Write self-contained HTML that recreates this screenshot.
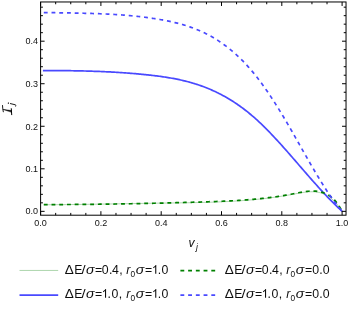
<!DOCTYPE html>
<html><head><meta charset="utf-8"><title>plot</title>
<style>html,body{margin:0;padding:0;background:#fff;}svg{display:block;}</style>
</head><body>
<svg width="349" height="310" viewBox="0 0 349 310">
<defs><filter id="b" x="0" y="0" width="349" height="310" filterUnits="userSpaceOnUse"><feGaussianBlur stdDeviation="0.42"/></filter></defs>
<rect width="349" height="310" fill="#fff"/>
<g filter="url(#b)">
<g fill="none" stroke-linejoin="round">
<path d="M43.80,204.77 L45.05,204.76 L46.30,204.76 L47.54,204.75 L48.79,204.74 L50.04,204.74 L51.29,204.73 L52.54,204.72 L53.78,204.71 L55.03,204.70 L56.28,204.69 L57.53,204.68 L58.78,204.67 L60.03,204.66 L61.27,204.65 L62.52,204.63 L63.77,204.62 L65.02,204.61 L66.27,204.60 L67.51,204.58 L68.76,204.57 L70.01,204.56 L71.26,204.54 L72.51,204.53 L73.75,204.51 L75.00,204.50 L76.25,204.48 L77.50,204.46 L78.75,204.45 L80.00,204.43 L81.24,204.41 L82.49,204.40 L83.74,204.38 L84.99,204.36 L86.24,204.34 L87.48,204.33 L88.73,204.31 L89.98,204.29 L91.23,204.27 L92.48,204.25 L93.72,204.23 L94.97,204.21 L96.22,204.19 L97.47,204.17 L98.72,204.15 L99.97,204.13 L101.21,204.11 L102.46,204.09 L103.71,204.07 L104.96,204.05 L106.21,204.03 L107.45,204.01 L108.70,203.99 L109.95,203.97 L111.20,203.95 L112.45,203.93 L113.69,203.90 L114.94,203.88 L116.19,203.86 L117.44,203.84 L118.69,203.82 L119.94,203.80 L121.18,203.78 L122.43,203.75 L123.68,203.73 L124.93,203.71 L126.18,203.69 L127.42,203.67 L128.67,203.65 L129.92,203.62 L131.17,203.60 L132.42,203.58 L133.66,203.56 L134.91,203.54 L136.16,203.52 L137.41,203.50 L138.66,203.47 L139.91,203.45 L141.15,203.43 L142.40,203.41 L143.65,203.39 L144.90,203.37 L146.15,203.35 L147.39,203.33 L148.64,203.31 L149.89,203.29 L151.14,203.27 L152.39,203.25 L153.63,203.23 L154.88,203.21 L156.13,203.19 L157.38,203.17 L158.63,203.15 L159.87,203.14 L161.12,203.12 L162.37,203.10 L163.62,203.08 L164.87,203.06 L166.12,203.05 L167.36,203.03 L168.61,203.01 L169.86,202.99 L171.11,202.98 L172.36,202.96 L173.60,202.94 L174.85,202.93 L176.10,202.91 L177.35,202.89 L178.60,202.88 L179.84,202.86 L181.09,202.84 L182.34,202.82 L183.59,202.80 L184.84,202.78 L186.09,202.76 L187.33,202.74 L188.58,202.72 L189.83,202.70 L191.08,202.68 L192.33,202.66 L193.57,202.63 L194.82,202.61 L196.07,202.58 L197.32,202.56 L198.57,202.53 L199.81,202.50 L201.06,202.47 L202.31,202.44 L203.56,202.41 L204.81,202.38 L206.06,202.35 L207.30,202.31 L208.55,202.27 L209.80,202.24 L211.05,202.20 L212.30,202.16 L213.54,202.11 L214.79,202.07 L216.04,202.02 L217.29,201.98 L218.54,201.93 L219.78,201.88 L221.03,201.83 L222.28,201.77 L223.53,201.72 L224.78,201.66 L226.03,201.60 L227.27,201.54 L228.52,201.47 L229.77,201.41 L231.02,201.34 L232.27,201.27 L233.51,201.19 L234.76,201.12 L236.01,201.04 L237.26,200.96 L238.51,200.88 L239.75,200.80 L241.00,200.71 L242.25,200.62 L243.50,200.53 L244.75,200.43 L245.99,200.33 L247.24,200.23 L248.49,200.13 L249.74,200.02 L250.99,199.91 L252.24,199.80 L253.48,199.68 L254.73,199.57 L255.98,199.44 L257.23,199.32 L258.48,199.19 L259.72,199.06 L260.97,198.93 L262.22,198.79 L263.47,198.65 L264.72,198.50 L265.96,198.36 L267.21,198.20 L268.46,198.05 L269.71,197.89 L270.96,197.73 L272.21,197.56 L273.45,197.39 L274.70,197.22 L275.95,197.05 L277.20,196.87 L278.45,196.68 L279.69,196.50 L280.94,196.30 L282.19,196.11 L283.44,195.91 L284.69,195.71 L285.93,195.50 L287.18,195.30 L288.43,195.08 L289.68,194.87 L290.93,194.65 L292.18,194.42 L293.42,194.19 L294.67,193.96 L295.92,193.73 L297.17,193.49 L298.42,193.26 L299.66,193.03 L300.91,192.82 L302.16,192.61 L303.41,192.42 L304.66,192.25 L305.90,192.10 L307.15,191.97 L308.40,191.86 L309.65,191.79 L310.90,191.75 L312.15,191.74 L313.39,191.77 L314.64,191.84 L315.89,191.96 L317.14,192.12 L318.39,192.33 L319.63,192.60 L320.88,192.92 L322.13,193.30 L323.38,193.76 L324.63,194.28 L325.87,194.87 L327.12,195.55 L328.37,196.30 L329.62,197.15 L330.87,198.08 L332.12,199.11 L333.36,200.24 L334.61,201.47 L335.86,202.81 L337.11,204.27 L338.36,205.84 L339.60,207.53 L340.85,209.35 L342.10,211.29" stroke="#008000" stroke-opacity="0.36" stroke-width="0.9"/>
<path d="M42.90,70.53 L44.15,70.53 L45.40,70.53 L46.66,70.53 L47.91,70.54 L49.16,70.54 L50.41,70.55 L51.66,70.55 L52.92,70.56 L54.17,70.56 L55.42,70.57 L56.67,70.58 L57.92,70.59 L59.17,70.60 L60.43,70.61 L61.68,70.62 L62.93,70.63 L64.18,70.64 L65.43,70.65 L66.69,70.67 L67.94,70.68 L69.19,70.70 L70.44,70.72 L71.69,70.74 L72.95,70.76 L74.20,70.78 L75.45,70.80 L76.70,70.82 L77.95,70.84 L79.20,70.87 L80.46,70.90 L81.71,70.92 L82.96,70.95 L84.21,70.98 L85.46,71.02 L86.72,71.05 L87.97,71.08 L89.22,71.12 L90.47,71.16 L91.72,71.19 L92.98,71.23 L94.23,71.28 L95.48,71.32 L96.73,71.36 L97.98,71.41 L99.23,71.46 L100.49,71.51 L101.74,71.56 L102.99,71.61 L104.24,71.67 L105.49,71.73 L106.75,71.79 L108.00,71.85 L109.25,71.91 L110.50,71.97 L111.75,72.04 L113.01,72.11 L114.26,72.18 L115.51,72.25 L116.76,72.32 L118.01,72.40 L119.26,72.48 L120.52,72.56 L121.77,72.64 L123.02,72.73 L124.27,72.81 L125.52,72.90 L126.78,72.99 L128.03,73.09 L129.28,73.18 L130.53,73.28 L131.78,73.38 L133.04,73.49 L134.29,73.59 L135.54,73.70 L136.79,73.81 L138.04,73.92 L139.29,74.04 L140.55,74.16 L141.80,74.28 L143.05,74.40 L144.30,74.53 L145.55,74.66 L146.81,74.79 L148.06,74.92 L149.31,75.06 L150.56,75.20 L151.81,75.34 L153.07,75.49 L154.32,75.64 L155.57,75.79 L156.82,75.95 L158.07,76.11 L159.33,76.27 L160.58,76.44 L161.83,76.62 L163.08,76.80 L164.33,76.99 L165.58,77.18 L166.84,77.37 L168.09,77.58 L169.34,77.79 L170.59,78.00 L171.84,78.22 L173.10,78.45 L174.35,78.69 L175.60,78.93 L176.85,79.18 L178.10,79.44 L179.36,79.70 L180.61,79.98 L181.86,80.26 L183.11,80.55 L184.36,80.85 L185.61,81.16 L186.87,81.48 L188.12,81.80 L189.37,82.14 L190.62,82.49 L191.87,82.85 L193.13,83.21 L194.38,83.59 L195.63,83.98 L196.88,84.38 L198.13,84.79 L199.39,85.21 L200.64,85.64 L201.89,86.09 L203.14,86.54 L204.39,87.01 L205.64,87.50 L206.90,87.99 L208.15,88.50 L209.40,89.02 L210.65,89.55 L211.90,90.10 L213.16,90.66 L214.41,91.23 L215.66,91.82 L216.91,92.42 L218.16,93.03 L219.42,93.66 L220.67,94.31 L221.92,94.97 L223.17,95.64 L224.42,96.33 L225.67,97.03 L226.93,97.75 L228.18,98.48 L229.43,99.23 L230.68,100.00 L231.93,100.78 L233.19,101.58 L234.44,102.39 L235.69,103.22 L236.94,104.06 L238.19,104.93 L239.45,105.81 L240.70,106.70 L241.95,107.62 L243.20,108.55 L244.45,109.49 L245.71,110.46 L246.96,111.44 L248.21,112.45 L249.46,113.47 L250.71,114.50 L251.96,115.56 L253.22,116.64 L254.47,117.73 L255.72,118.84 L256.97,119.97 L258.22,121.12 L259.48,122.29 L260.73,123.47 L261.98,124.67 L263.23,125.89 L264.48,127.12 L265.74,128.37 L266.99,129.63 L268.24,130.90 L269.49,132.19 L270.74,133.49 L271.99,134.80 L273.25,136.13 L274.50,137.46 L275.75,138.81 L277.00,140.16 L278.25,141.53 L279.51,142.91 L280.76,144.29 L282.01,145.68 L283.26,147.08 L284.51,148.48 L285.77,149.89 L287.02,151.31 L288.27,152.74 L289.52,154.16 L290.77,155.59 L292.02,157.03 L293.28,158.47 L294.53,159.91 L295.78,161.35 L297.03,162.80 L298.28,164.24 L299.54,165.69 L300.79,167.14 L302.04,168.58 L303.29,170.03 L304.54,171.47 L305.80,172.91 L307.05,174.35 L308.30,175.79 L309.55,177.22 L310.80,178.64 L312.05,180.07 L313.31,181.48 L314.56,182.89 L315.81,184.30 L317.06,185.69 L318.31,187.08 L319.57,188.46 L320.82,189.84 L322.07,191.20 L323.32,192.55 L324.57,193.90 L325.83,195.23 L327.08,196.55 L328.33,197.86 L329.58,199.15 L330.83,200.44 L332.08,201.71 L333.34,202.96 L334.59,204.20 L335.84,205.42 L337.09,206.63 L338.34,207.83 L339.60,209.00 L340.85,210.16 L342.10,211.30" stroke="#4a4aff" stroke-width="1.7"/>
<path d="M43.80,204.59 L45.05,204.59 L46.30,204.59 L47.54,204.59 L48.79,204.58 L50.04,204.58 L51.29,204.58 L52.54,204.58 L53.78,204.57 L55.03,204.57 L56.28,204.57 L57.53,204.56 L58.78,204.56 L60.03,204.55 L61.27,204.55 L62.52,204.54 L63.77,204.54 L65.02,204.53 L66.27,204.52 L67.51,204.52 L68.76,204.51 L70.01,204.50 L71.26,204.49 L72.51,204.48 L73.75,204.47 L75.00,204.47 L76.25,204.46 L77.50,204.45 L78.75,204.44 L80.00,204.43 L81.24,204.42 L82.49,204.40 L83.74,204.39 L84.99,204.38 L86.24,204.37 L87.48,204.36 L88.73,204.34 L89.98,204.33 L91.23,204.32 L92.48,204.31 L93.72,204.29 L94.97,204.28 L96.22,204.26 L97.47,204.25 L98.72,204.23 L99.97,204.22 L101.21,204.20 L102.46,204.18 L103.71,204.17 L104.96,204.15 L106.21,204.13 L107.45,204.12 L108.70,204.10 L109.95,204.08 L111.20,204.06 L112.45,204.04 L113.69,204.03 L114.94,204.01 L116.19,203.99 L117.44,203.97 L118.69,203.95 L119.94,203.93 L121.18,203.91 L122.43,203.88 L123.68,203.86 L124.93,203.84 L126.18,203.82 L127.42,203.80 L128.67,203.78 L129.92,203.75 L131.17,203.73 L132.42,203.71 L133.66,203.68 L134.91,203.66 L136.16,203.63 L137.41,203.61 L138.66,203.58 L139.91,203.56 L141.15,203.53 L142.40,203.51 L143.65,203.48 L144.90,203.46 L146.15,203.43 L147.39,203.40 L148.64,203.38 L149.89,203.35 L151.14,203.32 L152.39,203.29 L153.63,203.26 L154.88,203.24 L156.13,203.21 L157.38,203.18 L158.63,203.15 L159.87,203.12 L161.12,203.09 L162.37,203.06 L163.62,203.03 L164.87,203.00 L166.12,202.97 L167.36,202.94 L168.61,202.91 L169.86,202.87 L171.11,202.84 L172.36,202.81 L173.60,202.78 L174.85,202.74 L176.10,202.71 L177.35,202.68 L178.60,202.64 L179.84,202.61 L181.09,202.58 L182.34,202.54 L183.59,202.51 L184.84,202.47 L186.09,202.44 L187.33,202.40 L188.58,202.37 L189.83,202.33 L191.08,202.29 L192.33,202.26 L193.57,202.22 L194.82,202.18 L196.07,202.15 L197.32,202.11 L198.57,202.07 L199.81,202.04 L201.06,202.00 L202.31,201.96 L203.56,201.92 L204.81,201.88 L206.06,201.84 L207.30,201.80 L208.55,201.76 L209.80,201.72 L211.05,201.68 L212.30,201.63 L213.54,201.59 L214.79,201.54 L216.04,201.50 L217.29,201.45 L218.54,201.40 L219.78,201.35 L221.03,201.30 L222.28,201.25 L223.53,201.20 L224.78,201.14 L226.03,201.08 L227.27,201.02 L228.52,200.96 L229.77,200.90 L231.02,200.84 L232.27,200.77 L233.51,200.70 L234.76,200.63 L236.01,200.56 L237.26,200.49 L238.51,200.41 L239.75,200.33 L241.00,200.25 L242.25,200.17 L243.50,200.08 L244.75,199.99 L245.99,199.90 L247.24,199.81 L248.49,199.71 L249.74,199.61 L250.99,199.50 L252.24,199.40 L253.48,199.29 L254.73,199.18 L255.98,199.06 L257.23,198.94 L258.48,198.82 L259.72,198.69 L260.97,198.56 L262.22,198.43 L263.47,198.30 L264.72,198.16 L265.96,198.01 L267.21,197.86 L268.46,197.71 L269.71,197.56 L270.96,197.40 L272.21,197.23 L273.45,197.07 L274.70,196.89 L275.95,196.72 L277.20,196.54 L278.45,196.35 L279.69,196.16 L280.94,195.97 L282.19,195.77 L283.44,195.56 L284.69,195.35 L285.93,195.14 L287.18,194.92 L288.43,194.70 L289.68,194.47 L290.93,194.24 L292.18,194.00 L293.42,193.75 L294.67,193.51 L295.92,193.26 L297.17,193.01 L298.42,192.76 L299.66,192.52 L300.91,192.29 L302.16,192.07 L303.41,191.87 L304.66,191.68 L305.90,191.51 L307.15,191.37 L308.40,191.25 L309.65,191.16 L310.90,191.09 L312.15,191.07 L313.39,191.07 L314.64,191.12 L315.89,191.20 L317.14,191.33 L318.39,191.51 L319.63,191.73 L320.88,192.01 L322.13,192.34 L323.38,192.73 L324.63,193.18 L325.87,193.70 L327.12,194.30 L328.37,194.98 L329.62,195.77 L330.87,196.67 L332.12,197.69 L333.36,198.84 L334.61,200.14 L335.86,201.59 L337.11,203.20 L338.36,204.97 L339.60,206.91 L340.85,209.02 L342.10,211.30" stroke="#008000" stroke-width="1.7" stroke-dasharray="3.863 3.863"/>
<path d="M43.80,12.60 L45.05,12.61 L46.30,12.62 L47.54,12.63 L48.79,12.65 L50.04,12.66 L51.29,12.67 L52.54,12.69 L53.78,12.71 L55.03,12.72 L56.28,12.74 L57.53,12.76 L58.78,12.78 L60.03,12.79 L61.27,12.81 L62.52,12.83 L63.77,12.85 L65.02,12.87 L66.27,12.90 L67.51,12.92 L68.76,12.94 L70.01,12.96 L71.26,12.98 L72.51,13.01 L73.75,13.03 L75.00,13.06 L76.25,13.08 L77.50,13.11 L78.75,13.13 L80.00,13.16 L81.24,13.19 L82.49,13.22 L83.74,13.24 L84.99,13.28 L86.24,13.31 L87.48,13.34 L88.73,13.37 L89.98,13.41 L91.23,13.45 L92.48,13.49 L93.72,13.53 L94.97,13.57 L96.22,13.61 L97.47,13.66 L98.72,13.70 L99.97,13.75 L101.21,13.80 L102.46,13.85 L103.71,13.91 L104.96,13.96 L106.21,14.02 L107.45,14.08 L108.70,14.15 L109.95,14.21 L111.20,14.28 L112.45,14.35 L113.69,14.42 L114.94,14.50 L116.19,14.58 L117.44,14.66 L118.69,14.74 L119.94,14.83 L121.18,14.92 L122.43,15.01 L123.68,15.11 L124.93,15.20 L126.18,15.31 L127.42,15.41 L128.67,15.52 L129.92,15.63 L131.17,15.75 L132.42,15.87 L133.66,15.99 L134.91,16.12 L136.16,16.25 L137.41,16.38 L138.66,16.52 L139.91,16.66 L141.15,16.80 L142.40,16.95 L143.65,17.11 L144.90,17.27 L146.15,17.43 L147.39,17.59 L148.64,17.77 L149.89,17.94 L151.14,18.12 L152.39,18.30 L153.63,18.49 L154.88,18.69 L156.13,18.89 L157.38,19.09 L158.63,19.30 L159.87,19.51 L161.12,19.73 L162.37,19.95 L163.62,20.18 L164.87,20.42 L166.12,20.66 L167.36,20.91 L168.61,21.16 L169.86,21.42 L171.11,21.69 L172.36,21.97 L173.60,22.26 L174.85,22.55 L176.10,22.86 L177.35,23.17 L178.60,23.49 L179.84,23.83 L181.09,24.17 L182.34,24.52 L183.59,24.89 L184.84,25.26 L186.09,25.65 L187.33,26.05 L188.58,26.46 L189.83,26.89 L191.08,27.33 L192.33,27.78 L193.57,28.24 L194.82,28.72 L196.07,29.21 L197.32,29.72 L198.57,30.24 L199.81,30.78 L201.06,31.33 L202.31,31.90 L203.56,32.48 L204.81,33.08 L206.06,33.70 L207.30,34.34 L208.55,34.99 L209.80,35.66 L211.05,36.35 L212.30,37.06 L213.54,37.78 L214.79,38.53 L216.04,39.29 L217.29,40.08 L218.54,40.88 L219.78,41.71 L221.03,42.56 L222.28,43.43 L223.53,44.31 L224.78,45.23 L226.03,46.16 L227.27,47.11 L228.52,48.09 L229.77,49.09 L231.02,50.12 L232.27,51.16 L233.51,52.24 L234.76,53.33 L236.01,54.45 L237.26,55.60 L238.51,56.77 L239.75,57.97 L241.00,59.19 L242.25,60.44 L243.50,61.71 L244.75,63.01 L245.99,64.34 L247.24,65.70 L248.49,67.08 L249.74,68.49 L250.99,69.93 L252.24,71.40 L253.48,72.90 L254.73,74.42 L255.98,75.98 L257.23,77.56 L258.48,79.18 L259.72,80.82 L260.97,82.50 L262.22,84.20 L263.47,85.93 L264.72,87.69 L265.96,89.47 L267.21,91.28 L268.46,93.11 L269.71,94.97 L270.96,96.85 L272.21,98.76 L273.45,100.68 L274.70,102.63 L275.95,104.60 L277.20,106.59 L278.45,108.60 L279.69,110.62 L280.94,112.67 L282.19,114.73 L283.44,116.81 L284.69,118.90 L285.93,121.01 L287.18,123.14 L288.43,125.28 L289.68,127.43 L290.93,129.59 L292.18,131.77 L293.42,133.95 L294.67,136.14 L295.92,138.33 L297.17,140.53 L298.42,142.74 L299.66,144.94 L300.91,147.15 L302.16,149.35 L303.41,151.55 L304.66,153.75 L305.90,155.95 L307.15,158.13 L308.40,160.31 L309.65,162.48 L310.90,164.64 L312.15,166.79 L313.39,168.93 L314.64,171.05 L315.89,173.15 L317.14,175.24 L318.39,177.31 L319.63,179.36 L320.88,181.39 L322.13,183.39 L323.38,185.38 L324.63,187.33 L325.87,189.26 L327.12,191.16 L328.37,193.04 L329.62,194.88 L330.87,196.69 L332.12,198.46 L333.36,200.20 L334.61,201.91 L335.86,203.57 L337.11,205.20 L338.36,206.79 L339.60,208.33 L340.85,209.84 L342.10,211.30" stroke="#4a4aff" stroke-width="1.7" stroke-dasharray="3.863 3.863"/>
</g>
<g stroke="#000" stroke-width="1.0" fill="none">
<rect x="40.6" y="1.97" width="305.42999999999995" height="213.23"/>
<path d="M40.60,215.2 v-4.0 M40.60,1.97 v4.0 M55.68,215.2 v-2.3 M55.68,1.97 v2.3 M70.75,215.2 v-2.3 M70.75,1.97 v2.3 M85.83,215.2 v-2.3 M85.83,1.97 v2.3 M100.90,215.2 v-4.0 M100.90,1.97 v4.0 M115.97,215.2 v-2.3 M115.97,1.97 v2.3 M131.05,215.2 v-2.3 M131.05,1.97 v2.3 M146.12,215.2 v-2.3 M146.12,1.97 v2.3 M161.20,215.2 v-4.0 M161.20,1.97 v4.0 M176.28,215.2 v-2.3 M176.28,1.97 v2.3 M191.35,215.2 v-2.3 M191.35,1.97 v2.3 M206.43,215.2 v-2.3 M206.43,1.97 v2.3 M221.50,215.2 v-4.0 M221.50,1.97 v4.0 M236.57,215.2 v-2.3 M236.57,1.97 v2.3 M251.65,215.2 v-2.3 M251.65,1.97 v2.3 M266.73,215.2 v-2.3 M266.73,1.97 v2.3 M281.80,215.2 v-4.0 M281.80,1.97 v4.0 M296.88,215.2 v-2.3 M296.88,1.97 v2.3 M311.95,215.2 v-2.3 M311.95,1.97 v2.3 M327.03,215.2 v-2.3 M327.03,1.97 v2.3 M342.10,215.2 v-4.0 M342.10,1.97 v4.0 M40.6,211.35 h4.0 M346.03,211.35 h-4.0 M40.6,202.84 h2.3 M346.03,202.84 h-2.3 M40.6,194.33 h2.3 M346.03,194.33 h-2.3 M40.6,185.83 h2.3 M346.03,185.83 h-2.3 M40.6,177.32 h2.3 M346.03,177.32 h-2.3 M40.6,168.81 h4.0 M346.03,168.81 h-4.0 M40.6,160.30 h2.3 M346.03,160.30 h-2.3 M40.6,151.79 h2.3 M346.03,151.79 h-2.3 M40.6,143.29 h2.3 M346.03,143.29 h-2.3 M40.6,134.78 h2.3 M346.03,134.78 h-2.3 M40.6,126.27 h4.0 M346.03,126.27 h-4.0 M40.6,117.76 h2.3 M346.03,117.76 h-2.3 M40.6,109.25 h2.3 M346.03,109.25 h-2.3 M40.6,100.75 h2.3 M346.03,100.75 h-2.3 M40.6,92.24 h2.3 M346.03,92.24 h-2.3 M40.6,83.73 h4.0 M346.03,83.73 h-4.0 M40.6,75.22 h2.3 M346.03,75.22 h-2.3 M40.6,66.71 h2.3 M346.03,66.71 h-2.3 M40.6,58.21 h2.3 M346.03,58.21 h-2.3 M40.6,49.70 h2.3 M346.03,49.70 h-2.3 M40.6,41.19 h4.0 M346.03,41.19 h-4.0 M40.6,32.68 h2.3 M346.03,32.68 h-2.3 M40.6,24.17 h2.3 M346.03,24.17 h-2.3 M40.6,15.67 h2.3 M346.03,15.67 h-2.3 M40.6,7.16 h2.3 M346.03,7.16 h-2.3" stroke-width="1.0"/>
</g>
<g font-family="Liberation Sans, sans-serif" font-size="9" fill="#111">
<text x="40.60" y="226.3" text-anchor="middle">0.0</text>
<text x="100.90" y="226.3" text-anchor="middle">0.2</text>
<text x="161.20" y="226.3" text-anchor="middle">0.4</text>
<text x="221.50" y="226.3" text-anchor="middle">0.6</text>
<text x="281.80" y="226.3" text-anchor="middle">0.8</text>
<text x="342.10" y="226.3" text-anchor="middle">1.0</text>
<text x="37.9" y="213.65" text-anchor="end">0.0</text>
<text x="37.9" y="172.11" text-anchor="end">0.1</text>
<text x="37.9" y="129.57" text-anchor="end">0.2</text>
<text x="37.9" y="87.03" text-anchor="end">0.3</text>
<text x="37.9" y="44.49" text-anchor="end">0.4</text>
</g>
<g fill="#111" font-family="Liberation Sans, sans-serif" font-style="italic">
<text x="188.4" y="246.7" font-size="12">v</text><text x="196.1" y="250.2" font-size="8.5">j</text>
</g>
<g stroke="#000" stroke-width="0.9" fill="none" stroke-linecap="round" stroke-linejoin="round">
<path d="M2.5,105.5 Q2.6,109 3.3,111.8"/>
<path d="M3.3,109.4 L11.3,110.6 L11.4,111.9 Z" fill="#000" stroke-width="0.5"/>
<path d="M11.3,108.7 L11.7,114.7" stroke-width="1.0"/>
<circle cx="8.2" cy="103.1" r="0.3" fill="#000" stroke-width="0.5"/>
<path d="M10.4,103.6 L15.2,104.75 Q16.5,105.2 15.8,106.2"/>
</g>
<g fill="none">
<path d="M19.5,270.45 H58.2" stroke="#008000" stroke-opacity="0.36" stroke-width="0.9"/>
<path d="M19.5,295.2 H58.2" stroke="#4a4aff" stroke-width="1.7"/>
<path d="M180.4,270.7 H218.8" stroke="#008000" stroke-width="1.7" stroke-dasharray="3.863 3.863"/>
<path d="M180.4,295.2 H218.8" stroke="#4a4aff" stroke-width="1.7" stroke-dasharray="3.863 3.863"/>
</g>
<g font-family="Liberation Sans, sans-serif" fill="#111"><text transform="translate(64.69,273.80) scale(1.1,1)" font-size="12.3">Δ</text><text x="74.19" y="273.80" font-size="12.3">E</text><text transform="translate(81.60,273.80) scale(1.2,1)" font-size="12.3">/</text><text transform="translate(85.94,273.80) scale(1.14,1)" font-size="12.3" font-style="italic">σ</text><text x="95.00" y="273.80" font-size="12.3">=</text><text x="101.82" y="273.80" font-size="12.3">0</text><text x="108.88" y="273.80" font-size="12.3">.</text><text x="112.12" y="273.80" font-size="12.3">4</text><text x="119.19" y="273.80" font-size="12.3">,</text><text x="126.29" y="273.80" font-size="12.3" font-style="italic">r</text><text x="130.58" y="276.70" font-size="8.3">0</text><text transform="translate(135.64,273.80) scale(1.14,1)" font-size="12.3" font-style="italic">σ</text><text x="145.10" y="273.80" font-size="12.3">=</text><path transform="translate(151.86,273.80) scale(12.3,-12.3)" d="M0.359,0 L0.272,0 L0.272,0.560 Q0.240,0.530 0.190,0.500 Q0.140,0.470 0.109,0.455 L0.109,0.540 Q0.175,0.571 0.225,0.616 Q0.275,0.661 0.303,0.716 L0.359,0.716 Z"/><text x="157.78" y="273.80" font-size="12.3">.</text><text x="161.42" y="273.80" font-size="12.3">0</text></g>
<g font-family="Liberation Sans, sans-serif" fill="#111"><text transform="translate(64.69,297.80) scale(1.1,1)" font-size="12.3">Δ</text><text x="74.19" y="297.80" font-size="12.3">E</text><text transform="translate(81.60,297.80) scale(1.2,1)" font-size="12.3">/</text><text transform="translate(85.94,297.80) scale(1.14,1)" font-size="12.3" font-style="italic">σ</text><text x="95.00" y="297.80" font-size="12.3">=</text><path transform="translate(101.66,297.80) scale(12.3,-12.3)" d="M0.359,0 L0.272,0 L0.272,0.560 Q0.240,0.530 0.190,0.500 Q0.140,0.470 0.109,0.455 L0.109,0.540 Q0.175,0.571 0.225,0.616 Q0.275,0.661 0.303,0.716 L0.359,0.716 Z"/><text x="107.58" y="297.80" font-size="12.3">.</text><text x="111.42" y="297.80" font-size="12.3">0</text><text x="118.79" y="297.80" font-size="12.3">,</text><text x="126.29" y="297.80" font-size="12.3" font-style="italic">r</text><text x="130.58" y="300.70" font-size="8.3">0</text><text transform="translate(135.64,297.80) scale(1.14,1)" font-size="12.3" font-style="italic">σ</text><text x="145.10" y="297.80" font-size="12.3">=</text><path transform="translate(151.86,297.80) scale(12.3,-12.3)" d="M0.359,0 L0.272,0 L0.272,0.560 Q0.240,0.530 0.190,0.500 Q0.140,0.470 0.109,0.455 L0.109,0.540 Q0.175,0.571 0.225,0.616 Q0.275,0.661 0.303,0.716 L0.359,0.716 Z"/><text x="157.78" y="297.80" font-size="12.3">.</text><text x="161.42" y="297.80" font-size="12.3">0</text></g>
<g font-family="Liberation Sans, sans-serif" fill="#111"><text transform="translate(224.69,273.80) scale(1.1,1)" font-size="12.3">Δ</text><text x="234.19" y="273.80" font-size="12.3">E</text><text transform="translate(241.60,273.80) scale(1.2,1)" font-size="12.3">/</text><text transform="translate(245.94,273.80) scale(1.14,1)" font-size="12.3" font-style="italic">σ</text><text x="255.00" y="273.80" font-size="12.3">=</text><text x="261.82" y="273.80" font-size="12.3">0</text><text x="268.88" y="273.80" font-size="12.3">.</text><text x="272.12" y="273.80" font-size="12.3">4</text><text x="279.19" y="273.80" font-size="12.3">,</text><text x="286.29" y="273.80" font-size="12.3" font-style="italic">r</text><text x="290.58" y="276.70" font-size="8.3">0</text><text transform="translate(295.64,273.80) scale(1.14,1)" font-size="12.3" font-style="italic">σ</text><text x="305.10" y="273.80" font-size="12.3">=</text><text x="312.32" y="273.80" font-size="12.3">0</text><text x="319.18" y="273.80" font-size="12.3">.</text><text x="322.72" y="273.80" font-size="12.3">0</text></g>
<g font-family="Liberation Sans, sans-serif" fill="#111"><text transform="translate(224.69,297.80) scale(1.1,1)" font-size="12.3">Δ</text><text x="234.19" y="297.80" font-size="12.3">E</text><text transform="translate(241.60,297.80) scale(1.2,1)" font-size="12.3">/</text><text transform="translate(245.94,297.80) scale(1.14,1)" font-size="12.3" font-style="italic">σ</text><text x="255.00" y="297.80" font-size="12.3">=</text><path transform="translate(261.66,297.80) scale(12.3,-12.3)" d="M0.359,0 L0.272,0 L0.272,0.560 Q0.240,0.530 0.190,0.500 Q0.140,0.470 0.109,0.455 L0.109,0.540 Q0.175,0.571 0.225,0.616 Q0.275,0.661 0.303,0.716 L0.359,0.716 Z"/><text x="267.58" y="297.80" font-size="12.3">.</text><text x="271.42" y="297.80" font-size="12.3">0</text><text x="278.79" y="297.80" font-size="12.3">,</text><text x="286.29" y="297.80" font-size="12.3" font-style="italic">r</text><text x="290.58" y="300.70" font-size="8.3">0</text><text transform="translate(295.64,297.80) scale(1.14,1)" font-size="12.3" font-style="italic">σ</text><text x="305.10" y="297.80" font-size="12.3">=</text><text x="312.32" y="297.80" font-size="12.3">0</text><text x="319.18" y="297.80" font-size="12.3">.</text><text x="322.72" y="297.80" font-size="12.3">0</text></g>
</g>
</svg>
</body></html>
